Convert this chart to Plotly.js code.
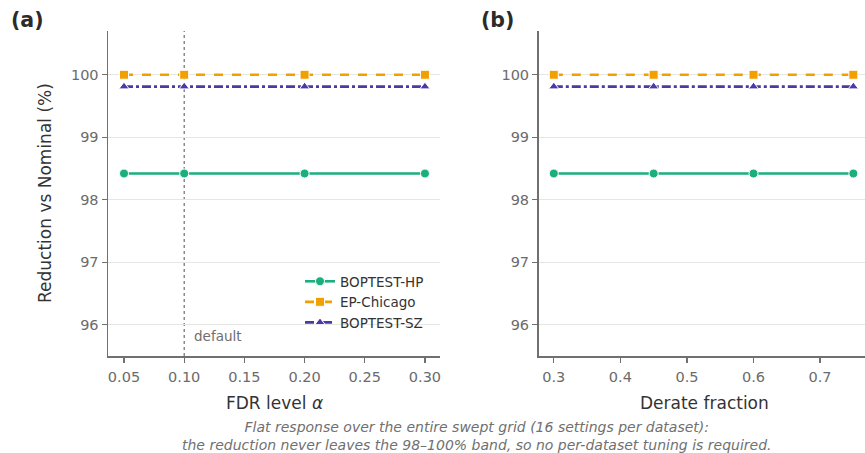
<!DOCTYPE html>
<html>
<head>
<meta charset="utf-8">
<script src="https://cdn.plot.ly/plotly-3.0.1.min.js"></script>
<style>html,body{margin:0;padding:0;background:#fff;}#chart{width:865px;height:453px;}</style>
</head>
<body>
<div id="chart"></div>
<script>
const seriesNames = ["BOPTEST-HP", "EP-Chicago", "BOPTEST-SZ"];
const fdrLevels = [0.05, 0.10, 0.20, 0.30];
const derateFractions = [0.30, 0.45, 0.60, 0.75];
const fdrReduction = {
  "BOPTEST-HP": [98.42, 98.42, 98.42, 98.42],
  "EP-Chicago": [100.0, 100.0, 100.0, 100.0],
  "BOPTEST-SZ": [99.81, 99.81, 99.81, 99.81]
};
const derateReduction = {
  "BOPTEST-HP": [98.42, 98.42, 98.42, 98.42],
  "EP-Chicago": [100.0, 100.0, 100.0, 100.0],
  "BOPTEST-SZ": [99.81, 99.81, 99.81, 99.81]
};
const yTicks = [96, 97, 98, 99, 100];
const xTicksA = [0.05, 0.10, 0.15, 0.20, 0.25, 0.30];
const xTickTextA = ["0.05", "0.10", "0.15", "0.20", "0.25", "0.30"];
const xTicksB = [0.3, 0.4, 0.5, 0.6, 0.7];
const xTickTextB = ["0.3", "0.4", "0.5", "0.6", "0.7"];
const defaultAlpha = 0.10;

const styles = {
  "BOPTEST-HP": {color: "#1aaf7d", dash: "solid", symbol: "circle", size: 9},
  "EP-Chicago": {color: "#f2a000", dash: "dash", symbol: "square", size: 9},
  "BOPTEST-SZ": {color: "#4b39a6", dash: "dashdot", symbol: "triangle-up", size: 9}
};

const traces = [];
seriesNames.forEach(name => {
  const s = styles[name];
  traces.push({
    x: fdrLevels, y: fdrReduction[name], name: name, type: "scatter", mode: "lines+markers",
    xaxis: "x", yaxis: "y", legendgroup: name,
    line: {color: s.color, width: 2.6, dash: s.dash},
    marker: {color: s.color, symbol: s.symbol, size: s.size, line: {color: "#fff", width: 1}}
  });
});
seriesNames.forEach(name => {
  const s = styles[name];
  traces.push({
    x: derateFractions, y: derateReduction[name], name: name, type: "scatter", mode: "lines+markers",
    xaxis: "x2", yaxis: "y2", legendgroup: name, showlegend: false,
    line: {color: s.color, width: 2.6, dash: s.dash},
    marker: {color: s.color, symbol: s.symbol, size: s.size, line: {color: "#fff", width: 1}}
  });
});

const axisCommon = {
  showline: true, linecolor: "#707070", linewidth: 1.5, mirror: false,
  ticks: "outside", ticklen: 5, tickwidth: 1.2, tickcolor: "#707070",
  tickfont: {family: "DejaVu Sans", size: 14.5, color: "#6b6b6b"},
  zeroline: false
};
const yDomain = [1 - 356/453, 1 - 31/453];

const layout = {
  width: 865, height: 453,
  margin: {l: 0, r: 0, t: 0, b: 0},
  paper_bgcolor: "#fff", plot_bgcolor: "#fff",
  font: {family: "DejaVu Sans", color: "#333"},
  showlegend: true,
  legend: {
    x: 300/865, y: 1 - 266/453, xanchor: "left", yanchor: "top",
    bgcolor: "rgba(255,255,255,0)", font: {family: "DejaVu Sans", size: 13.5, color: "#333"},
    tracegroupgap: 0, itemwidth: 30
  },
  xaxis: Object.assign({}, axisCommon, {
    domain: [108/865, 440/865], range: [0.0367, 0.3125], ticklabelstandoff: 2,
    tickvals: xTicksA, ticktext: xTickTextA, showgrid: false, anchor: "y"
  }),
  yaxis: Object.assign({}, axisCommon, {
    domain: yDomain, range: [95.5, 100.7], tickvals: yTicks,
    showgrid: true, gridcolor: "#e6e6e2", gridwidth: 1, anchor: "x"
  }),
  xaxis2: Object.assign({}, axisCommon, {
    domain: [538.5/865, 1], range: [0.277, 0.7675], ticklabelstandoff: 2,
    tickvals: xTicksB, ticktext: xTickTextB, showgrid: false, anchor: "y2"
  }),
  yaxis2: Object.assign({}, axisCommon, {
    domain: yDomain, range: [95.5, 100.7], tickvals: yTicks,
    showgrid: true, gridcolor: "#e6e6e2", gridwidth: 1, anchor: "x2"
  }),
  shapes: [{
    type: "line", xref: "x", yref: "y domain", x0: defaultAlpha, x1: defaultAlpha, y0: 0, y1: 1,
    line: {color: "#6e6e6e", width: 1.2, dash: "dot"}, layer: "below"
  }],
  annotations: [
    {text: "<b>(a)</b>", xref: "paper", yref: "paper", x: 9/865, y: 1 - 20/453, xanchor: "left", yanchor: "middle",
     showarrow: false, font: {family: "DejaVu Sans", size: 20.5, color: "#2b2b2b"}},
    {text: "<b>(b)</b>", xref: "paper", yref: "paper", x: 479/865, y: 1 - 20/453, xanchor: "left", yanchor: "middle",
     showarrow: false, font: {family: "DejaVu Sans", size: 20.5, color: "#2b2b2b"}},
    {text: "Reduction vs Nominal (%)", xref: "paper", yref: "paper", x: 45/865, y: 1 - 193/453, textangle: -90,
     xanchor: "center", yanchor: "middle", showarrow: false, font: {family: "DejaVu Sans", size: 17, color: "#333"}},
    {text: "FDR level <i>α</i>", xref: "paper", yref: "paper", x: 274/865, y: 1 - 403/453,
     xanchor: "center", yanchor: "middle", showarrow: false, font: {family: "DejaVu Sans", size: 17, color: "#333"}},
    {text: "Derate fraction", xref: "paper", yref: "paper", x: 704/865, y: 1 - 403/453,
     xanchor: "center", yanchor: "middle", showarrow: false, font: {family: "DejaVu Sans", size: 17, color: "#333"}},
    {text: "default", xref: "x", yref: "paper", x: 0.1067, y: 1 - 336/453, xanchor: "left", yanchor: "middle",
     showarrow: false, font: {family: "DejaVu Sans", size: 13.5, color: "#6e6e6e"}},
    {text: "<i>Flat response over the entire swept grid (16 settings per dataset):</i><br><i>the reduction never leaves the 98–100% band, so no per-dataset tuning is required.</i>",
     xref: "paper", yref: "paper", x: 477/865, y: 1 - 436/453, xanchor: "center", yanchor: "middle",
     showarrow: false, align: "center", font: {family: "DejaVu Sans", size: 14, color: "#707070"}}
  ]
};

Plotly.newPlot("chart", traces, layout, {displayModeBar: false, staticPlot: true});
</script>
</body>
</html>
